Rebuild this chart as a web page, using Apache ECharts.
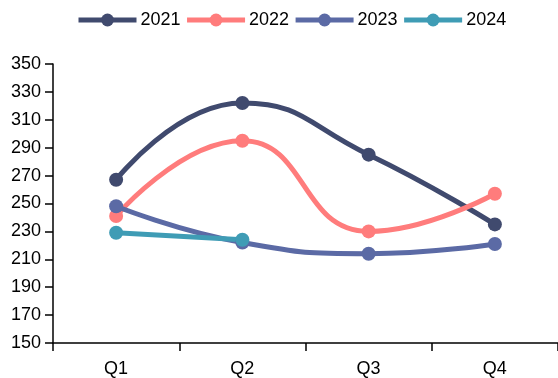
<!DOCTYPE html>
<html>
<head>
<meta charset="utf-8">
<script src="https://cdn.jsdelivr.net/npm/echarts@6/dist/echarts.min.js"></script>
<style>
  html, body { margin: 0; padding: 0; background: #fff; }
  #chart { width: 558px; height: 378px; }
</style>
</head>
<body>
<div id="chart"></div>
<script>
// Quarterly values per year
const quarters = ['Q1', 'Q2', 'Q3', 'Q4'];
const years = ['2021', '2022', '2023', '2024'];
const values2021 = [267, 322, 285, 235];
const values2022 = [241, 295, 230, 257];
const values2023 = [248, 222, 214, 221];
const values2024 = [229, 224, null, null];
const colors = ['#404a6e', '#ff7c7c', '#5b6aa5', '#3f9cb5'];

const allValues = [values2021, values2022, values2023, values2024];

const chart = echarts.init(document.getElementById('chart'), null, { renderer: 'canvas' });

const fontFamily = 'Liberation Sans, Arial, sans-serif';
const axisText = { color: '#000', fontFamily: fontFamily, fontSize: 18 };

chart.setOption({
  animation: false,
  color: colors,
  legend: {
    top: 11,
    left: 76,
    padding: 0,
    itemWidth: 58,
    itemHeight: 16,
    itemGap: 4,
    lineStyle: { width: 5 },
    textStyle: { color: '#000', fontFamily: fontFamily, fontSize: 18, padding: [0, 0, 0, -1] },
    data: years
  },
  grid: { left: 53, top: 64, width: 506, height: 283, containLabel: false },
  xAxis: {
    type: 'category',
    data: quarters,
    boundaryGap: true,
    axisLine: { lineStyle: { color: '#000', width: 1.5 } },
    axisTick: { show: true, length: 8, lineStyle: { color: '#000', width: 1.5 } },
    axisLabel: Object.assign({ margin: 17 }, axisText),
    splitLine: { show: false }
  },
  yAxis: {
    type: 'value',
    min: 150,
    max: 350,
    interval: 20,
    axisLine: { show: true, lineStyle: { color: '#000', width: 1.5 } },
    axisTick: { show: true, length: 8, lineStyle: { color: '#000', width: 1.5 } },
    axisLabel: Object.assign({ margin: 12 }, axisText),
    splitLine: { show: false }
  },
  series: allValues.map((vals, i) => ({
    name: years[i],
    type: 'line',
    data: vals,
    smooth: 0.5,
    symbol: 'circle',
    symbolSize: 14,
    lineStyle: { width: 5, color: colors[i] },
    itemStyle: { color: colors[i] },
    emphasis: { disabled: true }
  }))
});
</script>
</body>
</html>
